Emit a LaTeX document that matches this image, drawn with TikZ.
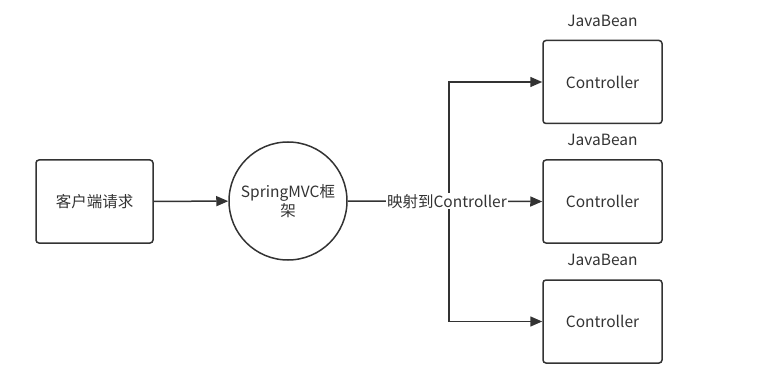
\documentclass[tikz,border=0pt]{standalone}
\usepackage{fontspec}
\setmainfont{Noto Sans CJK SC}
\usetikzlibrary{arrows.meta}
\definecolor{ln}{HTML}{333333}
\definecolor{tx}{HTML}{333333}
\begin{document}
\begin{tikzpicture}[x=1pt,y=-1pt,
  box/.style={draw=ln,line width=1.5pt,rounded corners=3pt,minimum width=117pt,minimum height=83pt,font=\fontsize{15.5}{19}\selectfont,text=tx},
  circ/.style={draw=ln,line width=1.5pt,circle,minimum size=118pt,align=center,font=\fontsize{15.5}{19}\selectfont,text=tx},
  conn/.style={draw=ln,line width=1.5pt,-{Triangle[length=12pt,width=10pt]}},
  lbl/.style={font=\fontsize{15.5}{19}\selectfont,text=tx}]
\useasboundingbox (0,0) rectangle (774,377);
\node[box] (client) at (94.5,201.5) {客户端请求};
\node[circ] (mvc) at (288,201) {SpringMVC框\\架};
\node[box,minimum width=119pt] (c1) at (602.5,82) {Controller};
\node[box,minimum width=119pt] (c2) at (602.5,201.5) {Controller};
\node[box,minimum width=119pt] (c3) at (602.5,321.5) {Controller};
\node[lbl,anchor=center] (j1) at ([yshift=19pt]c1.north) {JavaBean};
\node[lbl,anchor=center] (j2) at ([yshift=19pt]c2.north) {JavaBean};
\node[lbl,anchor=center] (j3) at ([yshift=19pt]c3.north) {JavaBean};
\coordinate (br) at (449,201.5);
\draw[conn] (client) -- (mvc);
\draw[conn] (br) |- (c1.west);
\draw[conn] (br) |- (c3.west);
\draw[conn] (mvc.east) -- (c2.west) node[pos=0.51,fill=white,inner sep=1pt,lbl] (map) {映射到Controller};
\end{tikzpicture}
\end{document}
